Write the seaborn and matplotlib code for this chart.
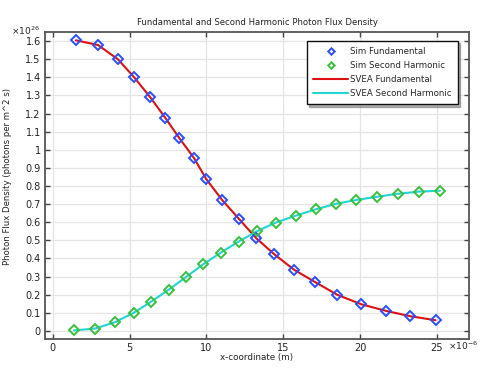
import numpy as np
import pandas as pd
import matplotlib
matplotlib.use("Agg")
import matplotlib.pyplot as plt
import seaborn as sns
from matplotlib.ticker import FuncFormatter, MultipleLocator

# Data (x in 1e-6 m, flux in 1e26 photons per m^2 s)
x_fund = [1.50, 2.94, 4.24, 5.28, 6.33, 7.31, 8.22, 9.20, 9.98, 11.02,
          12.13, 13.24, 14.42, 15.72, 17.09, 18.53, 20.09, 21.72, 23.29, 24.92]
y_fund = [1.604, 1.578, 1.499, 1.401, 1.291, 1.177, 1.066, 0.953, 0.839, 0.723,
          0.617, 0.512, 0.423, 0.337, 0.269, 0.199, 0.147, 0.110, 0.081, 0.059]

x_shg = [1.37, 2.74, 4.04, 5.28, 6.41, 7.55, 8.68, 9.79, 10.93, 12.09,
         13.29, 14.51, 15.82, 17.11, 18.41, 19.77, 21.14, 22.47, 23.84, 25.21]
y_shg = [0.003, 0.013, 0.048, 0.101, 0.162, 0.228, 0.298, 0.368, 0.432, 0.493,
         0.550, 0.598, 0.636, 0.671, 0.701, 0.723, 0.741, 0.757, 0.769, 0.774]

fund = pd.DataFrame({"x": x_fund, "y": y_fund})
shg = pd.DataFrame({"x": x_shg, "y": y_shg})

sns.set_theme(style="whitegrid")
plt.rcParams['font.family'] = ['DejaVu Sans']

fig = plt.figure(figsize=(4.83, 3.72), dpi=100)
ax = fig.add_axes([0.093, 0.089, 0.878, 0.825])

# SVEA curves
sns.lineplot(data=fund, x="x", y="y", color="#dd1111", linewidth=1.5,
             label="SVEA Fundamental", ax=ax, sort=False)
sns.lineplot(data=shg, x="x", y="y", color="#22d4d4", linewidth=1.5,
             label="SVEA Second Harmonic", ax=ax, sort=False)

# Simulation markers
ax.plot(fund["x"], fund["y"], linestyle="none", marker="D", markersize=5.5,
        markerfacecolor="none", markeredgecolor="#2a4dff", markeredgewidth=1.4,
        label="Sim Fundamental")
ax.plot(shg["x"], shg["y"], linestyle="none", marker="D", markersize=5.5,
        markerfacecolor="none", markeredgecolor="#3cbf3c", markeredgewidth=1.4,
        label="Sim Second Harmonic")

ax.set_xlim(-0.52, 27.1)
ax.set_ylim(-0.044, 1.65)
ax.xaxis.set_major_locator(MultipleLocator(5))
ax.yaxis.set_major_locator(MultipleLocator(0.1))
ax.yaxis.set_major_formatter(FuncFormatter(lambda v, p: "%g" % round(v, 1)))
ax.xaxis.set_major_formatter(FuncFormatter(lambda v, p: "%g" % v))

ax.grid(True, color="#e4e4e4", linewidth=0.9)
for s in ax.spines.values():
    s.set_visible(True)
    s.set_color("#555555")
    s.set_linewidth(1.3)
ax.tick_params(direction="in", length=3.5, width=1, color="#444444",
               top=True, right=True, bottom=True, left=True,
               labeltop=False, labelright=False, labelsize=7, pad=3,
               labelcolor="#222222")

ax.set_title("Fundamental and Second Harmonic Photon Flux Density",
             fontsize=6.1, pad=5, color="#222222")
ax.set_xlabel("x-coordinate (m)", fontsize=6.3, labelpad=0, color="#222222")
ax.set_ylabel("Photon Flux Density (photons per m^2 s)", fontsize=6.1,
              labelpad=4, color="#222222")
ax.yaxis.set_label_coords(-0.078, 0.53)

# axis multipliers
ax.text(-0.012, 0.983, "×10$^{26}$", transform=ax.transAxes, ha="right",
        va="bottom", fontsize=6.5, color="#222222")
ax.text(0.95, -0.022, "×10$^{-6}$", transform=ax.transAxes, ha="left",
        va="center", fontsize=6.5, color="#222222")

handles, labels = ax.get_legend_handles_labels()
order = [labels.index(l) for l in ["Sim Fundamental", "Sim Second Harmonic",
                                   "SVEA Fundamental", "SVEA Second Harmonic"]]
leg = ax.legend([handles[i] for i in order], [labels[i] for i in order],
                loc="upper right", bbox_to_anchor=(0.974, 0.971),
                borderaxespad=0, fontsize=6.2, frameon=True, fancybox=False,
                shadow={"ox": 1.5, "oy": -1.5, "shade": 0.6},
                edgecolor="#111111", markerscale=0.6, handlelength=4.0,
                handletextpad=0.3, borderpad=0.7, labelspacing=0.6,
                framealpha=1)
leg.get_frame().set_linewidth(1.0)

fig.savefig("out.png", dpi=100)
